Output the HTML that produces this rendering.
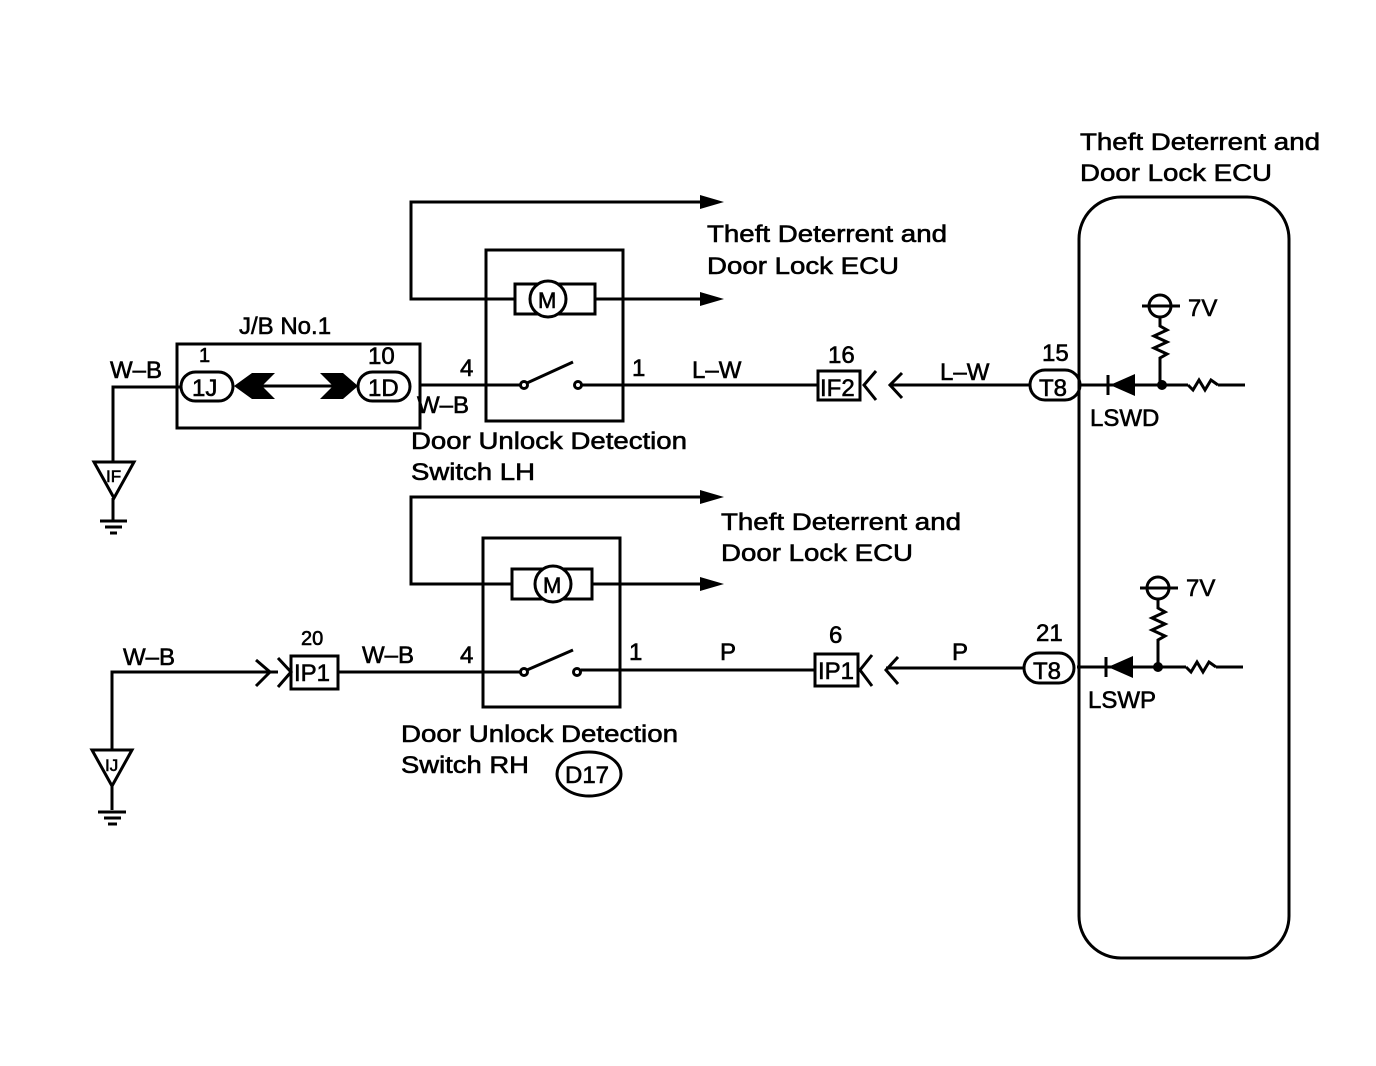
<!DOCTYPE html>
<html><head><meta charset="utf-8"><style>html,body{margin:0;padding:0;background:#fff}svg{display:block}text{font-family:"Liberation Sans",sans-serif;fill:#000;stroke:#000;stroke-width:0.6}</style></head><body>
<svg width="1376" height="1066" viewBox="0 0 1376 1066" xmlns="http://www.w3.org/2000/svg">
<g fill="none" stroke="#000" stroke-width="3">
<rect x="1079" y="197" width="210" height="761" rx="42"/>
<polyline points="700,202 411,202 411,299 515,299"/>
<line x1="595" y1="299" x2="700" y2="299"/>
<rect x="486" y="250" width="137" height="171"/>
<rect x="515" y="284" width="80" height="30"/>
<circle cx="548" cy="299" r="18" fill="#fff"/>
<line x1="420" y1="385" x2="520" y2="385"/>
<circle cx="524" cy="385" r="3.5" fill="#fff"/>
<line x1="527" y1="383" x2="573" y2="362"/>
<circle cx="578" cy="385" r="3.5" fill="#fff"/>
<line x1="582" y1="385" x2="818" y2="385"/>
<rect x="818" y="371" width="42" height="29"/>
<polyline points="876,371 864,385 876,400"/>
<polyline points="902,373 890,385 902,398"/>
<line x1="890" y1="385" x2="1030" y2="385"/>
<rect x="1030" y="370" width="50" height="30" rx="15"/>
<rect x="177" y="344" width="243" height="84"/>
<rect x="181" y="372" width="52" height="29" rx="14.5"/>
<rect x="358" y="372" width="52" height="29" rx="14.5"/>
<line x1="255" y1="386" x2="340" y2="386"/>
<polyline points="113,462 113,387 181,387"/>
<polygon points="94,462 134,462 114,498"/>
<line x1="113" y1="498" x2="113" y2="520"/>
<line x1="100" y1="521" x2="127" y2="521"/>
<line x1="105" y1="527" x2="122" y2="527"/>
<line x1="110" y1="533" x2="117" y2="533"/>
<line x1="1080" y1="385" x2="1188" y2="385"/>
<line x1="1218" y1="385" x2="1245" y2="385"/>
<line x1="1108" y1="375" x2="1108" y2="395"/>
<circle cx="1160" cy="306" r="11"/>
<line x1="1142" y1="306" x2="1180" y2="306"/>
<polyline points="1160,317 1160,326 1167,330 1154,336 1167,342 1154,348 1167,354 1160,358 1160,385"/>
<polyline points="1188,385 1193,390 1199,380 1205,390 1211,380 1218,385"/>
<polyline points="700,497 411,497 411,584 512,584"/>
<line x1="592" y1="584" x2="700" y2="584"/>
<rect x="483" y="538" width="137" height="169"/>
<rect x="512" y="569" width="80" height="30"/>
<circle cx="553" cy="584" r="18" fill="#fff"/>
<polyline points="112,750 112,672 278,672"/>
<polyline points="256,660 270,672 256,686"/>
<polyline points="278,658 291,672 278,687"/>
<rect x="291" y="656" width="47" height="33"/>
<line x1="338" y1="672" x2="520" y2="672"/>
<circle cx="524" cy="672" r="3.5" fill="#fff"/>
<line x1="527" y1="670" x2="573" y2="650"/>
<circle cx="577" cy="672" r="3.5" fill="#fff"/>
<line x1="581" y1="670" x2="815" y2="670"/>
<rect x="815" y="654" width="43" height="32"/>
<polyline points="872,655 860,670 872,686"/>
<polyline points="898,657 886,670 898,684"/>
<line x1="886" y1="668" x2="1024" y2="668"/>
<rect x="1024" y="653" width="50" height="30" rx="15"/>
<polygon points="92,750 132,750 112,786"/>
<line x1="112" y1="786" x2="112" y2="810"/>
<line x1="98" y1="812" x2="126" y2="812"/>
<line x1="104" y1="818" x2="121" y2="818"/>
<line x1="108" y1="824" x2="117" y2="824"/>
<ellipse cx="589" cy="774" rx="32" ry="22"/>
<line x1="1077" y1="667" x2="1186" y2="667"/>
<line x1="1216" y1="667" x2="1243" y2="667"/>
<line x1="1106" y1="657" x2="1106" y2="677"/>
<circle cx="1158" cy="588" r="11"/>
<line x1="1140" y1="588" x2="1178" y2="588"/>
<polyline points="1158,599 1158,608 1165,612 1152,618 1165,624 1152,630 1165,636 1158,640 1158,667"/>
<polyline points="1186,667 1191,672 1197,662 1203,672 1209,662 1216,667"/>
</g>
<g fill="#000" stroke="none">
<polygon points="700,195 724,202 700,209"/>
<polygon points="700,292 724,299 700,306"/>
<polygon points="700,490 724,497 700,504"/>
<polygon points="700,577 724,584 700,591"/>
<polygon points="234,386 252,373 275,373 262,386 275,399 252,399"/>
<polygon points="320,373 343,373 358,386 343,399 320,399 333,386"/>
<polygon points="1110,385 1135,374 1135,396"/>
<polygon points="1108,667 1133,656 1133,678"/>
<circle cx="1162" cy="385" r="5"/>
<circle cx="1158" cy="667" r="5"/>
</g>
<g font-size="24">
<text x="1080" y="150" textLength="240" lengthAdjust="spacingAndGlyphs">Theft Deterrent and</text>
<text x="1080" y="181" textLength="192" lengthAdjust="spacingAndGlyphs">Door Lock ECU</text>
<text x="707" y="242" textLength="240" lengthAdjust="spacingAndGlyphs">Theft Deterrent and</text>
<text x="707" y="274" textLength="192" lengthAdjust="spacingAndGlyphs">Door Lock ECU</text>
<text x="721" y="530" textLength="240" lengthAdjust="spacingAndGlyphs">Theft Deterrent and</text>
<text x="721" y="561" textLength="192" lengthAdjust="spacingAndGlyphs">Door Lock ECU</text>
<text x="411" y="449" textLength="276" lengthAdjust="spacingAndGlyphs">Door Unlock Detection</text>
<text x="411" y="480" textLength="124" lengthAdjust="spacingAndGlyphs">Switch LH</text>
<text x="401" y="742" textLength="277" lengthAdjust="spacingAndGlyphs">Door Unlock Detection</text>
<text x="401" y="773" textLength="128" lengthAdjust="spacingAndGlyphs">Switch RH</text>
<text x="239" y="334">J/B No.1</text>
<text x="110" y="378">W–B</text>
<text x="417" y="413">W–B</text>
<text x="460" y="376">4</text>
<text x="632" y="376">1</text>
<text x="692" y="378">L–W</text>
<text x="940" y="380">L–W</text>
<text x="828" y="363">16</text>
<text x="1042" y="361">15</text>
<text x="1090" y="426">LSWD</text>
<text x="1188" y="316">7V</text>
<text x="123" y="665">W–B</text>
<text x="362" y="663">W–B</text>
<text x="460" y="663">4</text>
<text x="629" y="660">1</text>
<text x="720" y="660">P</text>
<text x="952" y="660">P</text>
<text x="301" y="645" font-size="20">20</text>
<text x="829" y="643">6</text>
<text x="1036" y="641">21</text>
<text x="1088" y="708">LSWP</text>
<text x="1186" y="596">7V</text>
<text x="199" y="362" font-size="20">1</text>
<text x="368" y="364">10</text>
<text x="192" y="396">1J</text>
<text x="368" y="396">1D</text>
<text x="820" y="396">IF2</text>
<text x="1039" y="396">T8</text>
<text x="294" y="681">IP1</text>
<text x="818" y="679">IP1</text>
<text x="1033" y="679">T8</text>
<text x="565" y="783">D17</text>
<text x="106" y="482" font-size="17">IF</text>
<text x="105" y="771" font-size="17">IJ</text>
<text x="538" y="308" font-size="22">M</text>
<text x="543" y="593" font-size="22">M</text>
</g>
</svg>
</body></html>
